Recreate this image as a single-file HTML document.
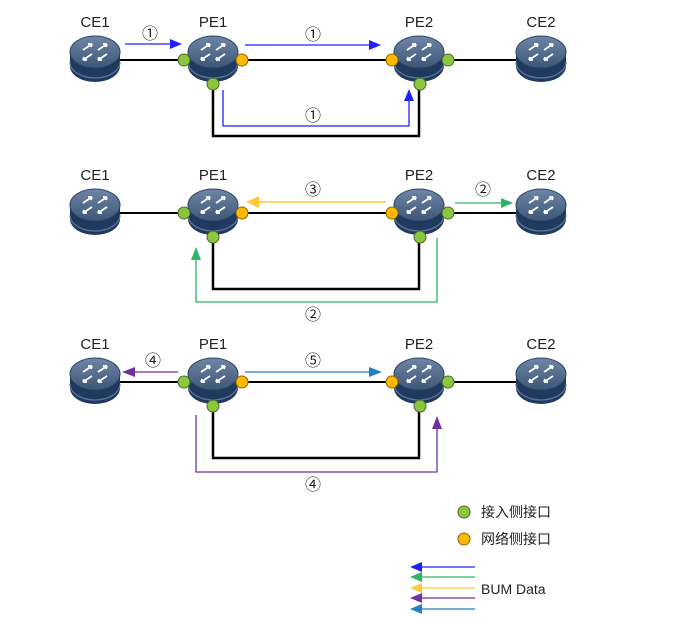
<!DOCTYPE html>
<html><head><meta charset="utf-8"><style>
html,body{margin:0;padding:0;background:#fff;}
svg{display:block;font-family:"Liberation Sans","Noto Sans CJK SC",sans-serif;}
</style></head><body>
<svg width="677" height="628" viewBox="0 0 677 628" xmlns="http://www.w3.org/2000/svg">
<defs>
<linearGradient id="tg" x1="0" y1="0" x2="0" y2="1"><stop offset="0" stop-color="#6f86a6"/><stop offset="1" stop-color="#3e5676"/></linearGradient>
<g id="r">
<path d="M-25,-8 L-25,6 A25,16 0 0 0 25,6 L25,-8 Z" fill="#1f3a5e"/>
<path d="M-25,2 A25,16 0 0 0 25,2" fill="none" stroke="#5d7596" stroke-width="1.2"/>
<ellipse cx="0" cy="-8" rx="25" ry="16" fill="url(#tg)" stroke="#2a4468" stroke-width="1"/>
<g stroke="#fff" stroke-width="1.8" fill="none">
<path d="M-12,-10 L-3,-16 M-3,-16 L-7,-16 M-3,-16 L-4,-13"/>
<path d="M12,-6 L3,0 M3,0 L7,0 M3,0 L4,-3"/>
<path d="M-3,-6 L-12,0 M-12,0 L-8,0 M-12,0 L-11,-3"/>
<path d="M3,-10 L12,-16 M12,-16 L8,-16 M12,-16 L11,-13"/>
</g>
</g>
<g id="row">
<line x1="95" y1="0" x2="544" y2="0" stroke="#000" stroke-width="2"/>
<path d="M213,22 V76 H419 V22" fill="none" stroke="#000" stroke-width="2.5"/>
<use href="#r" x="95" y="0"/><use href="#r" x="213" y="0"/><use href="#r" x="419" y="0"/><use href="#r" x="541" y="0"/>
<g stroke="#4b6b2a" stroke-width="1">
<circle cx="184" cy="0" r="6" fill="#8cc63f"/><circle cx="213" cy="24" r="6" fill="#8cc63f"/>
<circle cx="448" cy="0" r="6" fill="#8cc63f"/><circle cx="420" cy="24" r="6" fill="#8cc63f"/>
</g>
<g stroke="#8a6a00" stroke-width="1">
<circle cx="242" cy="0" r="6" fill="#ffb800"/><circle cx="392" cy="0" r="6" fill="#ffb800"/>
</g>
<g font-size="15" fill="#222" text-anchor="middle">
<text x="95" y="-33">CE1</text><text x="213" y="-33">PE1</text><text x="419" y="-33">PE2</text><text x="541" y="-33">CE2</text>
</g>
</g>
</defs>
<use href="#row" x="0" y="60"/>
<use href="#row" x="0" y="213"/>
<use href="#row" x="0" y="382"/>
<g font-size="16" fill="#222" text-anchor="middle">
<line x1="125" y1="44" x2="172" y2="44" stroke="#2020ff" stroke-width="1.3"/><path d="M182,44 L170,39 L170,49 Z" fill="#2020ff"/>
<text x="150" y="39">①</text>
<line x1="245" y1="45" x2="370" y2="45" stroke="#2020ff" stroke-width="1.3"/><path d="M381,45 L369,40 L369,50 Z" fill="#2020ff"/>
<text x="313" y="40">①</text>
<path d="M223,90 V126 H409 V100" fill="none" stroke="#2020ff" stroke-width="1.3"/><path d="M409,89 L404,101 L414,101 Z" fill="#2020ff"/>
<text x="313" y="121">①</text>
<line x1="386" y1="202" x2="258" y2="202" stroke="#ffc93c" stroke-width="1.5"/><path d="M246,202 L259,196 L259,208 Z" fill="#ffc93c"/>
<text x="313" y="195">③</text>
<line x1="455" y1="203" x2="502" y2="203" stroke="#2db36b" stroke-width="1.3"/><path d="M513,203 L501,198 L501,208 Z" fill="#2db36b"/>
<text x="483" y="195">②</text>
<path d="M437,238 V302 H196 V260" fill="none" stroke="#2db36b" stroke-width="1.3"/><path d="M196,247 L191,260 L201,260 Z" fill="#2db36b"/>
<text x="313" y="320">②</text>
<line x1="178" y1="372" x2="134" y2="372" stroke="#7030a0" stroke-width="1.3"/><path d="M122,372 L135,367 L135,377 Z" fill="#7030a0"/>
<text x="153" y="366">④</text>
<line x1="245" y1="372" x2="370" y2="372" stroke="#1f7fc8" stroke-width="1.3"/><path d="M382,372 L369,367 L369,377 Z" fill="#1f7fc8"/>
<text x="313" y="366">⑤</text>
<path d="M196,415 V472 H437 V428" fill="none" stroke="#7030a0" stroke-width="1.3"/><path d="M437,416 L432,429 L442,429 Z" fill="#7030a0"/>
<text x="313" y="490">④</text>
</g>
<circle cx="464" cy="512" r="6" fill="#8cc63f" stroke="#4b6b2a"/>
<circle cx="464" cy="539" r="6" fill="#ffb800" stroke="#8a6a00"/>
<g font-size="14" fill="#222"><text x="481" y="517">接入侧接口</text><text x="481" y="544">网络侧接口</text><text x="481" y="594">BUM Data</text></g>
<g stroke-width="1.3">
<line x1="420" y1="567" x2="475" y2="567" stroke="#2020ff"/><path d="M410,567 L422,562 L422,572 Z" fill="#2020ff"/>
<line x1="420" y1="577" x2="475" y2="577" stroke="#2db36b"/><path d="M410,577 L422,572 L422,582 Z" fill="#2db36b"/>
<line x1="420" y1="588" x2="475" y2="588" stroke="#ffc93c"/><path d="M410,588 L422,583 L422,593 Z" fill="#ffc93c"/>
<line x1="420" y1="598" x2="475" y2="598" stroke="#7030a0"/><path d="M410,598 L422,593 L422,603 Z" fill="#7030a0"/>
<line x1="420" y1="609" x2="475" y2="609" stroke="#1f7fc8"/><path d="M410,609 L422,604 L422,614 Z" fill="#1f7fc8"/>
</g>
</svg>
</body></html>
